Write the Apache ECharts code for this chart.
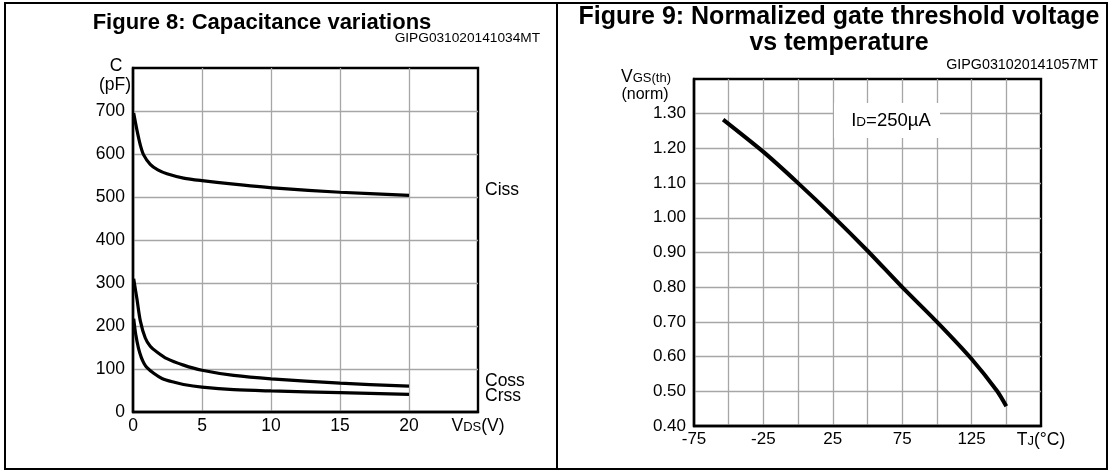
<!DOCTYPE html>
<html>
<head>
<meta charset="utf-8">
<script src="https://cdn.jsdelivr.net/npm/echarts@6/dist/echarts.min.js"></script>
<style>
html,body{margin:0;padding:0;background:#fff;}
#c{width:1112px;height:473px;}
</style>
</head>
<body>
<div id="c"></div>
<script>
// ---- Figure 8: capacitance vs VDS ----
const vdsTicks = [0, 5, 10, 15, 20];
const cissData = [[0.05,695],[0.29,655],[0.53,621],[0.77,598],[1.25,576],[1.8,563],[2.46,554],[3.66,544],[5,538],[7.3,530],[10.65,520],[15,511],[20,504]];
const cossData = [[0.05,310],[0.29,262],[0.53,212],[0.89,172],[1.25,153],[1.76,139],[2.46,124],[3.66,109],[5,97],[7.3,85],[10,77],[15,67],[20,60]];
const crssData = [[0.05,217],[0.2,180],[0.4,148],[0.6,127],[0.8,113],[1.0,104],[1.5,90],[2.1,78],[3,69],[3.66,64],[5,58],[7.3,52],[10,49],[15,45],[20,41]];
// ---- Figure 9: normalized VGS(th) vs TJ ----
const tjTicks = [-75, -25, 25, 75, 125];
const vgsData = [[-54,1.283],[-25,1.19],[0,1.10],[25,1.005],[50,0.905],[75,0.80],[100,0.70],[125,0.593],[143.5,0.50],[150,0.457]];

const FONT = 'Liberation Sans, Arial, sans-serif';
const gridLine = {show:true, lineStyle:{color:'#a6a6a6', width:1.3}, showMinLine:false, showMaxLine:false};
const lab = {color:'#000', fontFamily:FONT, fontSize:17.5};
const subRich = {
  v:{fontFamily:FONT, fontSize:17.5, color:'#000', verticalAlign:'bottom', lineHeight:18},
  s:{fontFamily:FONT, fontSize:13, color:'#000', verticalAlign:'bottom', lineHeight:18, padding:[0,0,1,0]}
};
const idRich = {
  v:{fontFamily:FONT, fontSize:18.5, color:'#000', verticalAlign:'bottom', lineHeight:19},
  s:{fontFamily:FONT, fontSize:13.5, color:'#000', verticalAlign:'bottom', lineHeight:19, padding:[0,0,1,0]}
};
const axLine = {show:true, onZero:false, lineStyle:{color:'#000', width:2.4}};

const chart = echarts.init(document.getElementById('c'), null, {renderer:'canvas'});
chart.setOption({
  animation:false,
  backgroundColor:'#fff',
  grid:[
    {left:133, top:68, width:345, height:344, show:true, borderColor:'#000', borderWidth:2.4, backgroundColor:'transparent'},
    {left:694, top:79, width:347, height:347, show:true, borderColor:'#000', borderWidth:2.4, backgroundColor:'transparent'}
  ],
  xAxis:[
    {type:'value', gridIndex:0, min:0, max:25, interval:5,
     axisLine:axLine, axisTick:{show:false}, splitLine:gridLine,
     axisLabel:Object.assign({}, lab, {margin:5, rich:subRich,
       formatter:v => v === 25 ? '{v|V}{s|DS}{v|(V)}' : (vdsTicks.indexOf(v) >= 0 ? String(v) : '')})},
    {type:'value', gridIndex:1, min:-75, max:175, interval:25,
     axisLine:axLine, axisTick:{show:false}, splitLine:gridLine,
     axisLabel:Object.assign({}, lab, {fontSize:17, margin:5, rich:subRich,
       formatter:v => v === 175 ? '{v|T}{s|J}{v|(°C)}' : (tjTicks.indexOf(v) >= 0 ? String(v) : '')})}
  ],
  yAxis:[
    {type:'value', gridIndex:0, min:0, max:800, interval:100,
     axisLine:axLine, axisTick:{show:false}, splitLine:gridLine,
     axisLabel:Object.assign({}, lab, {margin:8, formatter:v => v >= 800 ? '' : String(v)})},
    {type:'value', gridIndex:1, min:0.4, max:1.4, interval:0.1,
     axisLine:axLine, axisTick:{show:false}, splitLine:gridLine,
     axisLabel:Object.assign({}, lab, {fontSize:17, margin:8, formatter:v => v > 1.35 ? '' : v.toFixed(2)})}
  ],
  series:[
    {name:'Ciss', type:'line', xAxisIndex:0, yAxisIndex:0, data:cissData, smooth:0.3, showSymbol:false, lineStyle:{color:'#000', width:3.2}, z:5},
    {name:'Coss', type:'line', xAxisIndex:0, yAxisIndex:0, data:cossData, smooth:0.3, showSymbol:false, lineStyle:{color:'#000', width:3.2}, z:5},
    {name:'Crss', type:'line', xAxisIndex:0, yAxisIndex:0, data:crssData, smooth:0.3, showSymbol:false, lineStyle:{color:'#000', width:3.2}, z:5},
    {name:'VGS', type:'line', xAxisIndex:1, yAxisIndex:1, data:vgsData, smooth:0.2, showSymbol:false, lineStyle:{color:'#000', width:4}, z:5}
  ],
  graphic:[
    {type:'rect', shape:{x:5, y:3, width:1102, height:466}, style:{fill:'none', stroke:'#000', lineWidth:2}, z:100, silent:true},
    {type:'line', shape:{x1:557, y1:3, x2:557, y2:469}, style:{stroke:'#000', lineWidth:2}, z:100, silent:true},
    // titles
    {type:'text', style:{x:262, y:23, text:'Figure 8: Capacitance variations', font:'bold 22px '+FONT, fill:'#000', textAlign:'center', textVerticalAlign:'middle'}},
    {type:'text', style:{x:540, y:38, text:'GIPG031020141034MT', font:'13.7px '+FONT, fill:'#000', textAlign:'right', textVerticalAlign:'middle'}},
    {type:'text', style:{x:839, y:17, text:'Figure 9: Normalized gate threshold voltage', font:'bold 25px '+FONT, fill:'#000', textAlign:'center', textVerticalAlign:'middle'}},
    {type:'text', style:{x:839, y:43, text:'vs temperature', font:'bold 25px '+FONT, fill:'#000', textAlign:'center', textVerticalAlign:'middle'}},
    {type:'text', style:{x:1098, y:65, text:'GIPG031020141057MT', font:'14.3px '+FONT, fill:'#000', textAlign:'right', textVerticalAlign:'middle'}},
    // axis names
    {type:'text', style:{x:116, y:66, text:'C', font:'17.5px '+FONT, fill:'#000', textAlign:'center', textVerticalAlign:'middle'}},
    {type:'text', style:{x:115, y:85, text:'(pF)', font:'17.5px '+FONT, fill:'#000', textAlign:'center', textVerticalAlign:'middle'}},
    {type:'text', style:{x:646, y:77, text:'{v|V}{s|GS(th)}', rich:subRich, textAlign:'center', textVerticalAlign:'middle'}},
    {type:'text', style:{x:645, y:95, text:'(norm)', font:'16px '+FONT, fill:'#000', textAlign:'center', textVerticalAlign:'middle'}},
    // curve labels
    {type:'text', style:{x:485, y:190, text:'Ciss', font:'17.5px '+FONT, fill:'#000', textAlign:'left', textVerticalAlign:'middle'}},
    {type:'text', style:{x:485, y:381, text:'Coss', font:'17.5px '+FONT, fill:'#000', textAlign:'left', textVerticalAlign:'middle'}},
    {type:'text', style:{x:485, y:396, text:'Crss', font:'17.5px '+FONT, fill:'#000', textAlign:'left', textVerticalAlign:'middle'}},
    // ID annotation box
    {type:'rect', shape:{x:834, y:103, width:106, height:35}, style:{fill:'#fff'}, z:50, silent:true},
    {type:'text', style:{x:891, y:121, text:'{v|I}{s|D}{v|=250µA}', rich:idRich, textAlign:'center', textVerticalAlign:'middle'}, z:51}
  ]
});
</script>
</body>
</html>
